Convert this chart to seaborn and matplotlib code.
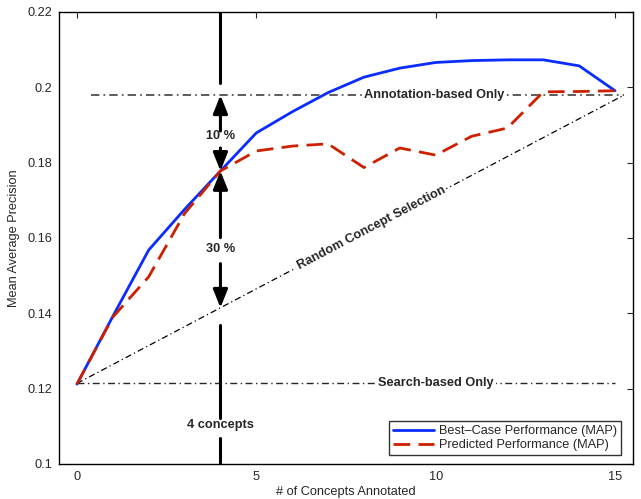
import numpy as np
import pandas as pd
import seaborn as sns
import matplotlib.pyplot as plt
from matplotlib.lines import Line2D

# values
concepts = list(range(16))
best_case = [0.1212, 0.1392, 0.1568, 0.1676, 0.1778, 0.1879, 0.1935, 0.1986,
             0.2027, 0.2051, 0.2066, 0.2071, 0.2073, 0.2073, 0.2057, 0.1991]
predicted = [0.1212, 0.1390, 0.1497, 0.1665, 0.1778, 0.1831, 0.1844, 0.1850,
             0.1787, 0.1839, 0.1820, 0.1870, 0.1892, 0.1988, 0.1989, 0.1991]
series_names = ['Best\u2013Case Performance (MAP)', 'Predicted Performance (MAP)']

search_only = 0.1214
annotation_only = 0.1979
line_end = 15.24
chosen = 4

x_ticks = [0, 5, 10, 15]
y_ticks = [0.1, 0.12, 0.14, 0.16, 0.18, 0.2, 0.22]
y_ticklabels = ['0.1', '0.12', '0.14', '0.16', '0.18', '0.2', '0.22']

df = pd.DataFrame({
    'concepts': concepts * 2,
    'map': best_case + predicted,
    'series': [series_names[0]] * 16 + [series_names[1]] * 16,
})

sns.set_style('white')
plt.rcParams['font.family'] = ['Liberation Sans', 'DejaVu Sans']
FS = 9.2

fig = plt.figure(figsize=(6.41, 4.99), dpi=100)
ax = fig.add_axes([59 / 641, 35 / 499, 574 / 641, 452 / 499])
ax.set_xlim(-0.5, 15.5)
ax.set_ylim(0.1, 0.22)

# reference lines (dash-dot)
dd = (5, 2.5, 1, 2.5)
ax.plot([0.4, line_end], [annotation_only] * 2, color='0.25', lw=1.2,
        dashes=dd, zorder=1)
ax.plot([0, 15], [search_only] * 2, color='0.15', lw=1.0, dashes=dd, zorder=1)
ax.plot([0, line_end], [search_only, annotation_only], color='black', lw=0.9,
        dashes=dd, zorder=1)

sns.lineplot(data=df, x='concepts', y='map', hue='series', style='series',
             palette=['#0a2cff', '#cc2000'], dashes=[(None, None), (6, 3)],
             linewidth=2, ax=ax, legend=False, zorder=3)

# vertical marker at 4 concepts
rand_at = search_only + chosen * (annotation_only - search_only) / line_end
vk = dict(color='black', lw=2.2, zorder=2)
ax.plot([chosen, chosen], [0.2011, 0.22], **vk)
ax.plot([chosen, chosen], [0.1368, 0.1122], **vk)
ax.plot([chosen, chosen], [0.1069, 0.1], **vk)

arrow = dict(arrowstyle='-|>,head_length=0.55,head_width=0.22', color='black',
             lw=2.2, mutation_scale=20, shrinkA=0, shrinkB=0)
ax.annotate('', xy=(chosen, annotation_only), xytext=(chosen, 0.1884), arrowprops=arrow)
ax.annotate('', xy=(chosen, best_case[chosen]), xytext=(chosen, 0.1839), arrowprops=arrow)
ax.annotate('', xy=(chosen, best_case[chosen]), xytext=(chosen, 0.1601), arrowprops=arrow)
ax.annotate('', xy=(chosen, rand_at), xytext=(chosen, 0.1532), arrowprops=arrow)

bold = dict(fontsize=FS, fontweight='bold', ha='center', va='center')
ax.text(chosen, 0.1870, '10 %', **bold)
ax.text(chosen, 0.1571, '30 %', **bold)
ax.text(chosen, 0.1103, '4 concepts', **bold)

wbox = dict(facecolor='white', edgecolor='none', pad=1.5)
ax.text(9.95, annotation_only, 'Annotation-based Only', bbox=wbox, zorder=4, **bold)
ax.text(10.0, search_only, 'Search-based Only', bbox=wbox, zorder=4, **bold)

# rotate label along the random-selection line
p0 = ax.transData.transform((0, search_only))
p1 = ax.transData.transform((line_end, annotation_only))
angle = np.degrees(np.arctan2(p1[1] - p0[1], p1[0] - p0[0]))
rx = 8.2
ax.text(rx, search_only + rx * (annotation_only - search_only) / line_end,
        'Random Concept Selection', rotation=angle, rotation_mode='anchor',
        bbox=wbox, zorder=4, **bold)

# legend
handles = [Line2D([], [], color='#0a2cff', lw=2),
           Line2D([], [], color='#cc2000', lw=2, dashes=(6, 3))]
leg = ax.legend(handles, series_names, loc='lower right',
                bbox_to_anchor=(0.979, 0.02), fontsize=FS,
                frameon=True, fancybox=False, handlelength=3.2,
                borderpad=0.3, labelspacing=0.15, handletextpad=0.4,
                borderaxespad=0)
leg.get_frame().set_edgecolor('black')
leg.get_frame().set_linewidth(1.0)

ax.set_xticks(x_ticks)
ax.set_yticks(y_ticks)
ax.set_yticklabels(y_ticklabels)
ax.tick_params(direction='in', top=True, right=True, length=4, width=0.8,
               labelsize=FS, pad=5)
for s in ax.spines.values():
    s.set_visible(True)
    s.set_color('black')
    s.set_linewidth(1.0)

ax.set_xlabel('# of Concepts Annotated', fontsize=FS, labelpad=2)
ax.set_ylabel('Mean Average Precision', fontsize=FS, labelpad=5)

fig.savefig('out.png', dpi=100)
